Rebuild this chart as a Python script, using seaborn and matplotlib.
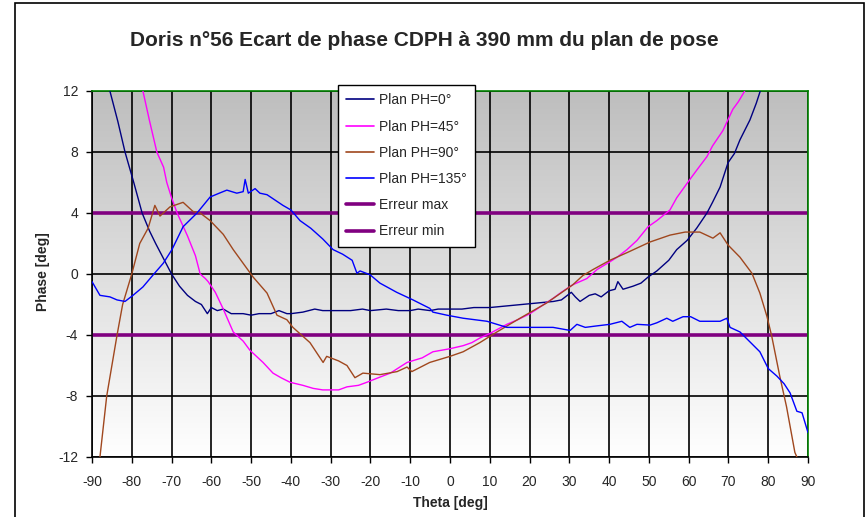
import numpy as np
import pandas as pd
import matplotlib
matplotlib.use("Agg")
import matplotlib.pyplot as plt
from matplotlib.lines import Line2D
from matplotlib.patches import Rectangle
from matplotlib.colors import LinearSegmentedColormap
import seaborn as sns

# ---------------- data ----------------
title = "Doris n°56 Ecart de phase CDPH à 390 mm du plan de pose"
xlabel = "Theta [deg]"
ylabel = "Phase [deg]"
x_ticks = list(range(-90, 91, 10))
y_ticks = [-12, -8, -4, 0, 4, 8, 12]

ph0_theta = [-85.5, -83.5, -81.7, -79.5, -77.4, -75.5, -74, -72, -70, -68, -66, -64, -62.5, -61, -60, -58.5,
             -57, -55, -52, -50, -48, -45, -43, -41, -40, -37, -34, -32, -28, -25, -22, -20, -16, -13, -10,
             -8, -5, -3, 0, 3, 6, 10, 14, 18, 22, 26, 28, 30.5, 31.5, 32.7, 35, 36.5, 38, 40, 41.5, 42.2,
             43.5, 46, 48, 49.8, 52, 55, 57, 59.6, 62, 64.6, 66, 67.9, 69.9, 71.5, 72.9, 75.4, 77, 78]
ph0_phase = [12, 10, 8, 6, 4, 2.8, 2, 1.0, 0, -0.8, -1.4, -1.8, -2.0, -2.6, -2.2, -2.4,
             -2.3, -2.6, -2.6, -2.7, -2.6, -2.6, -2.4, -2.6, -2.6, -2.5, -2.3, -2.4, -2.4, -2.4, -2.3, -2.4,
             -2.3, -2.4, -2.4, -2.3, -2.4, -2.3, -2.3, -2.3, -2.2, -2.2, -2.1, -2.0, -1.9, -1.8, -1.7, -1.2,
             -1.5, -1.8, -1.4, -1.3, -1.5, -1.1, -1.0, -0.5, -1.0, -0.8, -0.6, -0.2, 0.2, 0.9, 1.6, 2.2,
             3.0, 4.0, 4.7, 5.7, 7.3, 7.9, 8.8, 10.1, 11.2, 12]

ph45_theta = [-77.2, -75.5, -73.7, -72, -71.2, -70, -68.6, -66, -64, -62.8, -61.5, -60.8, -59, -57, -54.5,
              -52, -50.3, -47, -44.5, -42.5, -40.2, -37, -34.4, -32, -30.2, -28, -25.9, -23, -20.9, -18,
              -15, -12, -10.8, -7, -4.3, 0, 3.3, 5.5, 7.5, 10, 14.3, 17, 20.1, 23, 25.9, 28, 30.9, 34.4,
              37, 40.2, 42, 44.5, 47, 49.8, 52, 55.3, 57, 60.3, 62, 64.6, 66, 68.6, 71.1, 72.5, 74.1]
ph45_phase = [12, 10, 8, 7, 6, 5, 4, 2.5, 1.2, 0, -0.3, -0.5, -1.2, -2.3, -3.8,
              -4.4, -5.0, -5.8, -6.5, -6.8, -7.1, -7.3, -7.5, -7.6, -7.6, -7.6, -7.4, -7.3, -7.1, -6.8,
              -6.5, -6.0, -5.8, -5.5, -5.1, -4.9, -4.7, -4.5, -4.2, -3.9, -3.3, -3.0, -2.6, -2.1, -1.6,
              -1.2, -0.7, -0.3, 0.3, 0.8, 1.1, 1.6, 2.2, 3.1, 3.5, 4.2, 5.0, 6.2, 6.8, 7.7, 8.4, 9.4,
              10.8, 11.3, 12]

ph90_theta = [-88, -86.3, -83.7, -82.3, -80, -78, -75.9, -74.2, -72.9, -70.4, -67.1, -64.6, -62.8, -60.3,
              -57, -54.5, -52, -49.5, -46, -43.5, -41, -39.5, -35.2, -31.9, -31, -28, -25.9, -23.9, -21.9,
              -17.6, -13.3, -10.8, -9.6, -5.1, 0, 3.3, 7.5, 11.8, 17.6, 24.3, 30.9, 33.4, 36, 40.2, 44.5,
              50.3, 55.3, 59.1, 62.8, 66.1, 67.9, 69.9, 72.9, 75.9, 77.9, 79.7, 80.9, 82.9, 84.6, 86.7, 87.2]
ph90_phase = [-12, -8, -4, -2, 0, 2, 3, 4.5, 3.8, 4.4, 4.7, 4.1, 4.0, 3.5,
              2.6, 1.6, 0.7, -0.2, -1.25, -2.7, -3.0, -3.5, -4.5, -5.8, -5.4, -5.7, -6.0, -6.8, -6.5,
              -6.6, -6.4, -6.1, -6.4, -5.8, -5.4, -5.1, -4.5, -3.8, -2.9, -1.9, -0.7, -0.1, 0.3, 0.9, 1.4,
              2.1, 2.55, 2.75, 2.75, 2.35, 2.7, 1.9, 1.1, 0.05, -1.25, -2.8, -4.1, -6.7, -8.7, -11.7, -12]

ph135_theta = [-90, -88, -85.5, -83.7, -81.7, -79.7, -77.2, -74.6, -72.1, -69.9, -67.1, -63.6, -60.3, -58,
               -56.1, -53.6, -52, -51.5, -50.7, -49, -47.8, -46, -42, -40, -37.7, -35, -32, -29.4, -27,
               -24.6, -23.4, -22.6, -20.1, -17.6, -13.4, -9.3, -5.1, -4.3, -0.8, 3.3, 9.3, 14.3, 20.1,
               25.9, 30.2, 31.9, 34, 37, 40.2, 43.2, 45.2, 47, 50.3, 52, 54.5, 56, 58.6, 60.5, 62.8, 65,
               67.9, 69.6, 70.4, 72.9, 75.4, 77.9, 80, 82.2, 84, 85.5, 87.2, 88.5, 90]
ph135_phase = [-0.5, -1.4, -1.5, -1.7, -1.8, -1.4, -0.85, -0.05, 0.7, 1.6, 3.1, 4.0, 5.05, 5.3,
               5.5, 5.3, 5.4, 6.2, 5.3, 5.6, 5.3, 5.2, 4.5, 4.2, 3.5, 3.0, 2.3, 1.6, 1.3,
               0.9, 0.05, 0.2, -0.05, -0.6, -1.2, -1.7, -2.25, -2.5, -2.7, -2.9, -3.1, -3.5, -3.5,
               -3.5, -3.7, -3.3, -3.5, -3.4, -3.3, -3.1, -3.5, -3.3, -3.35, -3.2, -2.9, -3.1, -2.8, -2.8,
               -3.1, -3.1, -3.1, -2.9, -3.5, -3.8, -4.45, -5.1, -6.2, -6.7, -7.2, -7.8, -9.0, -9.1, -10.4]

err_theta = [-90, 90]
err_max = [4, 4]
err_min = [-4, -4]

series_names = ["Plan PH=0°", "Plan PH=45°", "Plan PH=90°", "Plan PH=135°"]
series_colors = ["#000080", "#FF00FF", "#A0471E", "#0000FF"]
err_names = ["Erreur max", "Erreur min"]
err_color = "#800080"

# ---------------- figure ----------------
sns.set_style("white")
plt.rcParams["font.family"] = ["Liberation Sans", "DejaVu Sans"]
plt.rcParams["axes.unicode_minus"] = False

fig = plt.figure(figsize=(8.67, 5.17), dpi=100)
W, H = 867, 517
ax = fig.add_axes([92 / W, 1 - 457 / H, 716 / W, 366 / H])

# gradient background of plot area
cmap = LinearSegmentedColormap.from_list("bg", ["#ffffff", "#bebebe"])
grad = np.linspace(0, 1, 256).reshape(-1, 1)
ax.imshow(grad, extent=[-90, 90, -12, 12], origin="lower", aspect="auto", cmap=cmap, zorder=0,
          interpolation="bilinear")

frames = []
for name, xs, ys in zip(series_names,
                        [ph0_theta, ph45_theta, ph90_theta, ph135_theta],
                        [ph0_phase, ph45_phase, ph90_phase, ph135_phase]):
    frames.append(pd.DataFrame({"theta": xs, "phase": ys, "serie": name}))
df = pd.concat(frames, ignore_index=True)

sns.lineplot(data=df, x="theta", y="phase", hue="serie", hue_order=series_names,
             palette=dict(zip(series_names, series_colors)), estimator=None, sort=False,
             linewidth=1.0, legend=False, ax=ax, zorder=3)

sns.lineplot(x=err_theta, y=err_max, color=err_color, linewidth=2.6, ax=ax, zorder=2)
sns.lineplot(x=err_theta, y=err_min, color=err_color, linewidth=2.6, ax=ax, zorder=2)

ax.set_xlim(-90, 90)
ax.set_ylim(-12, 12)
ax.set_xticks(x_ticks)
ax.set_yticks(y_ticks)
ax.set_axisbelow(True)
ax.grid(True, color="black", linewidth=1.2)
ax.tick_params(direction="out", length=4, width=1, color="black", labelsize=10,
               bottom=True, left=True)
ax.tick_params(axis="x", pad=9)
ax.tick_params(axis="y", pad=6)
for s in ["top", "right"]:
    ax.spines[s].set_color("#008000")
    ax.spines[s].set_linewidth(1.2)
for s in ["left", "bottom"]:
    ax.spines[s].set_color("black")
    ax.spines[s].set_linewidth(1.2)

ax.set_xlabel("")
ax.set_ylabel("")
fig.text(450 / W, 1 - 503 / H, xlabel, ha="center", va="center", fontsize=10, fontweight="bold")
fig.text(43 / W, 1 - 272 / H, ylabel, ha="center", va="center", fontsize=10, fontweight="bold",
         rotation=90)
fig.text(424 / W, 1 - 40 / H, title, ha="center", va="center", fontsize=15.0, fontweight="bold")

handles = [Line2D([], [], color=c, lw=1.2) for c in series_colors] + \
          [Line2D([], [], color=err_color, lw=2.6) for _ in err_names]
leg = ax.legend(handles, series_names + err_names, loc="upper left",
                bbox_to_anchor=((338 - 92) / 716, (457 - 85) / 366), fontsize=10,
                frameon=True, fancybox=False, framealpha=1, edgecolor="black",
                handlelength=2.0, handletextpad=0.35, labelspacing=0.88, borderpad=0.6,
                borderaxespad=0)
leg.get_frame().set_linewidth(1.0)
leg.set_zorder(10)

# chart-area border
fig.add_artist(Rectangle((15 / W, -0.05), (864 - 15) / W, 1 - 3 / H + 0.05,
                         transform=fig.transFigure, fill=False, ec="black", lw=1.2))

fig.savefig("out.png", dpi=100)
